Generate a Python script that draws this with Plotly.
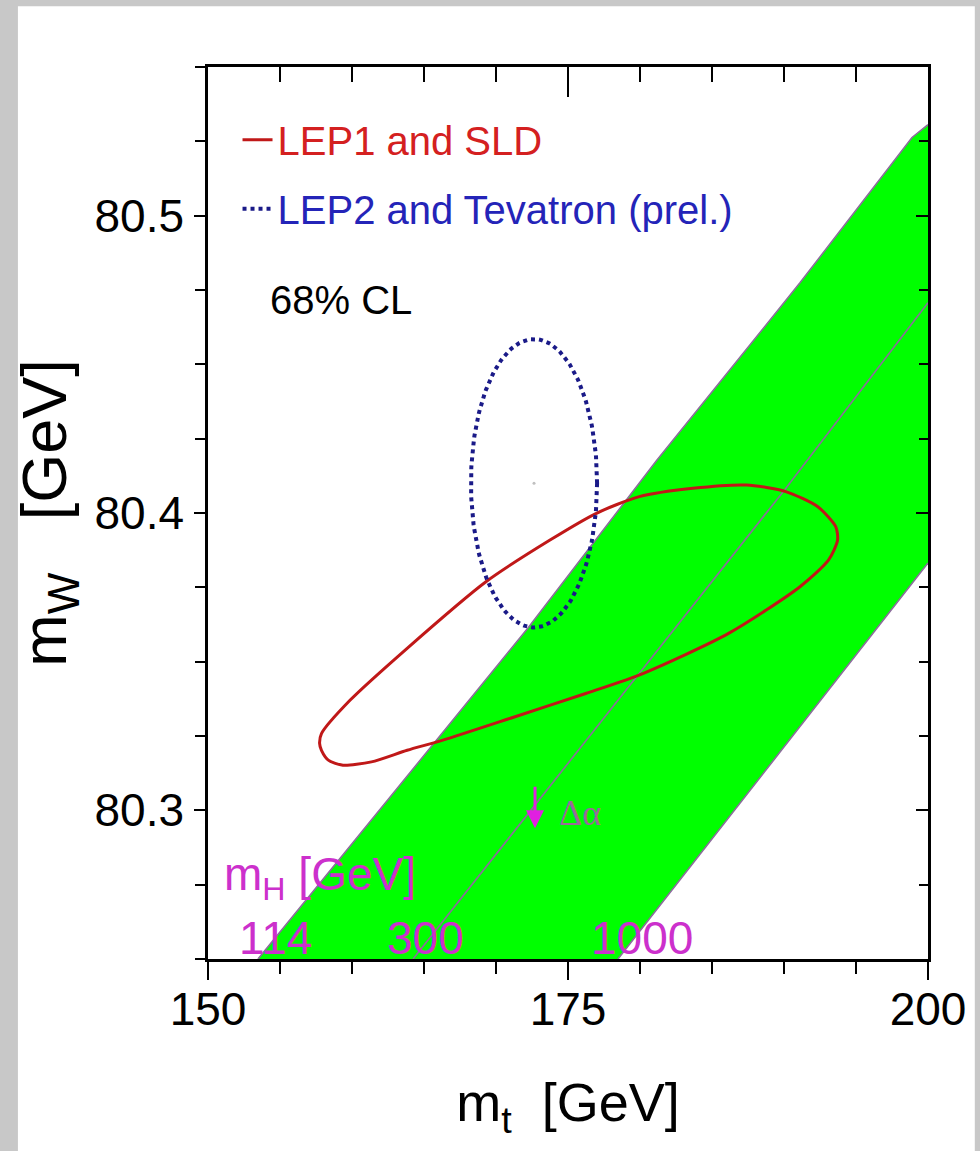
import numpy as np
import plotly.graph_objects as go

# ---------------- data ----------------
# LEP1 and SLD 68% CL contour (m_t [GeV], m_W [GeV])
lep1_mt = [157.75, 157.88, 159.86, 163.83, 169.28, 173.75, 176.97, 179.95, 183.67,
           187.39, 190.12, 192.35, 193.59, 193.72, 193.10, 191.11, 186.15, 180.20,
           176.23, 171.27, 166.31, 163.83, 161.35, 159.37, 158.38, 157.88, 157.75]
lep1_mw = [80.3225, 80.3258, 80.3370, 80.3545, 80.3768, 80.3909, 80.3999, 80.4055, 80.4083,
           80.4094, 80.4072, 80.4021, 80.3954, 80.3909, 80.3842, 80.3752, 80.3595, 80.3460,
           80.3393, 80.3314, 80.3236, 80.3202, 80.3163, 80.3152, 80.3168, 80.3202, 80.3225]

# LEP2 and Tevatron (prel.) 68% CL ellipse: centre and half widths
tev_mt_centre = 172.64
tev_mw_centre = 80.410
tev_mt_half = 4.38
tev_mw_half = 0.0485

# SM prediction band: lines of constant m_H
mh114_mt = [153.47, 163.06, 172.22, 181.18, 191.11, 198.89, 200.0]
mh114_mw = [80.25, 80.3071, 80.3613, 80.4178, 80.4774, 80.5263, 80.5306]
mh300_mt = [164.24, 175.14, 189.93, 200.0]
mh300_mw = [80.25, 80.3168, 80.4071, 80.4707]
mh1000_mt = [178.47, 189.03, 200.0]
mh1000_mw = [80.25, 80.3152, 80.3832]

mh_labels = ["114", "300", "1000"]
mh_label_mt = [154.72, 165.07, 180.14]
mh_label_mw = 80.2572

# Delta alpha arrow
dalpha_mt = 172.71
dalpha_mw_tail = 80.3084
dalpha_mw_tip = 80.294

x_range = [150, 200]
y_range = [80.25, 80.55]

# ---------------- figure ----------------
fig = go.Figure()

band_x = mh114_mt + mh1000_mt[::-1] + [mh114_mt[0]]
band_y = mh114_mw + mh1000_mw[::-1] + [mh114_mw[0]]
fig.add_trace(go.Scatter(x=band_x, y=band_y, mode="lines", fill="toself",
                         fillcolor="#00ff00", line=dict(width=0),
                         showlegend=False, hoverinfo="skip"))
for xs, ys in [(mh114_mt, mh114_mw), (mh300_mt, mh300_mw), (mh1000_mt, mh1000_mw)]:
    fig.add_trace(go.Scatter(x=xs, y=ys, mode="lines",
                             line=dict(color="#8c6c9c", width=1.6),
                             showlegend=False, hoverinfo="skip"))

fig.add_trace(go.Scatter(x=lep1_mt, y=lep1_mw, mode="lines",
                         line=dict(color="#c01818", width=3, shape="spline", smoothing=0.7),
                         name='<span style="color:#d42020">LEP1 and SLD</span>',
                         legendgroup="a"))

t = np.linspace(0, 2 * np.pi, 241)
fig.add_trace(go.Scatter(x=tev_mt_centre + tev_mt_half * np.cos(t),
                         y=tev_mw_centre + tev_mw_half * np.sin(t),
                         mode="lines",
                         line=dict(color="#1a1a88", width=4, dash="dot"),
                         name='<span style="color:#2424b8">LEP2 and Tevatron (prel.)</span>',
                         legendgroup="b"))

# centre dot, drawn on the mirrored axes so they get rendered
fig.add_trace(go.Scatter(x=[tev_mt_centre], y=[tev_mw_centre], mode="markers",
                         marker=dict(size=3, color="#c0c0c0"),
                         xaxis="x2", yaxis="y2", showlegend=False, hoverinfo="skip"))

# Delta alpha arrow and label
fig.add_annotation(x=dalpha_mt, y=dalpha_mw_tip, ax=dalpha_mt, ay=dalpha_mw_tail,
                   axref="x", ayref="y", xref="x", yref="y", text="", showarrow=True,
                   arrowhead=2, arrowsize=1.2, arrowwidth=3, arrowcolor="#e020e0")
fig.add_annotation(x=175.83, y=80.299, xref="x", yref="y", text="Δα", showarrow=False,
                   font=dict(family="Liberation Serif, Times New Roman, serif", size=36,
                             color="#9a6a9a"))

# m_H labels
fig.add_annotation(x=157.78, y=80.2775, xref="x", yref="y", text="m<sub>H</sub> [GeV]",
                   showarrow=False, font=dict(size=46, color="#cc30cc"))
for lab, xm in zip(mh_labels, mh_label_mt):
    fig.add_annotation(x=xm, y=mh_label_mw, xref="x", yref="y", text=lab, showarrow=False,
                       font=dict(size=46, color="#cc30cc"))

fig.add_annotation(x=0.083, y=0.739, xref="paper", yref="paper", text="68% CL",
                   showarrow=False, xanchor="left", yanchor="middle",
                   font=dict(size=40, color="black"))

# white panel on grey paper
fig.add_shape(type="rect", xref="paper", yref="paper", x0=-0.264, x1=1.065,
              y0=-0.216, y1=1.068, fillcolor="white", line=dict(width=0), layer="below")

axis_common = dict(showgrid=False, zeroline=False, showline=True, linecolor="black",
                   linewidth=2.5, tickcolor="black", tickwidth=2)

fig.update_layout(
    width=980, height=1151,
    margin=dict(l=208, r=52, t=67, b=192),
    paper_bgcolor="#c8c8c8", plot_bgcolor="rgba(0,0,0,0)",
    font=dict(family="Liberation Sans, Arial, sans-serif", color="black"),
    showlegend=True,
    legend=dict(x=0.041, y=0.955, xanchor="left", yanchor="top", bgcolor="rgba(0,0,0,0)",
                font=dict(size=40), tracegroupgap=14, itemwidth=30),
    xaxis=dict(range=x_range, tick0=150, dtick=25, ticks="outside", ticklen=18,
               tickfont=dict(size=46), ticklabelstandoff=-10,
               minor=dict(tick0=150, dtick=5, ticks="outside", ticklen=12,
                          tickwidth=2, tickcolor="black", showgrid=False),
               title=dict(text="m<sub>t</sub>  [GeV]", font=dict(size=54), standoff=50),
               **axis_common),
    yaxis=dict(range=y_range, tick0=80.3, dtick=0.1, ticks="outside", ticklen=11,
               tickfont=dict(size=46), tickformat=".1f", ticklabelstandoff=1,
               minor=dict(tick0=80.25, dtick=0.025, ticks="outside", ticklen=10,
                          tickwidth=2, tickcolor="black", showgrid=False),
               title=dict(text="m<sub>W</sub>   [GeV]", font=dict(size=63), standoff=8),
               **axis_common),
    xaxis2=dict(range=x_range, overlaying="x", side="top", anchor="y2",
                tick0=150, dtick=25, ticks="inside", ticklen=30, showticklabels=False,
                minor=dict(tick0=150, dtick=5, ticks="inside", ticklen=15,
                           tickwidth=2, tickcolor="black", showgrid=False),
                **axis_common),
    yaxis2=dict(range=y_range, overlaying="y", side="right", anchor="x2",
                tick0=80.3, dtick=0.1, ticks="inside", ticklen=12, showticklabels=False,
                minor=dict(tick0=80.25, dtick=0.025, ticks="inside", ticklen=9,
                           tickwidth=2, tickcolor="black", showgrid=False),
                **axis_common),
)

fig.write_html("out.html", config={"displayModeBar": False},
               post_script="document.body.style.margin='0px';")
